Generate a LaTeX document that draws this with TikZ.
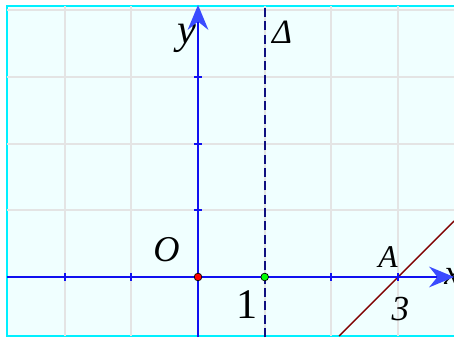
\documentclass[tikz,border=0pt]{standalone}
\usepackage{fontspec}
\setmainfont{Liberation Serif}
\usetikzlibrary{arrows.meta}
\definecolor{bgcol}{HTML}{F0FFFF}
\definecolor{gridcol}{HTML}{E4E4E4}
\definecolor{framecol}{HTML}{00F0FF}
\definecolor{axiscol}{HTML}{1010F0}
\definecolor{tipcol}{HTML}{3A4BFF}
\definecolor{dashcol}{HTML}{101080}
\definecolor{linecol}{HTML}{800000}
\tikzset{
  gridline/.style={draw=gridcol, line width=0.06cm},
  axisline/.style={draw=axiscol, line width=0.07cm},
  axistip/.style={-{Stealth[length=0.75cm,width=0.62cm,inset=0.25cm,color=tipcol,fill=tipcol]}},
  tickmark/.style={draw=axiscol, line width=0.06cm},
  dot/.style={circle, draw=black, line width=0.6pt, inner sep=0pt, minimum size=0.23cm},
  lbl/.style={inner sep=0pt, anchor=base},
}
\begin{document}
\begin{tikzpicture}[x=2cm,y=2cm]
\useasboundingbox (-2.969,-0.9) rectangle (3.838,4.153);
% frame
\draw[draw=framecol, fill=bgcol, line width=0.07cm] (-2.864,-0.885) rectangle (4.2,4.063);
% grid
\foreach \i in {-2,-1,0,1,2,3} \draw[gridline] (\i,-0.885) -- (\i,4.063);
\foreach \j in {1,2,3,4} \draw[gridline] (-2.864,\j) -- (3.84,\j);
% coordinates
\coordinate (xl) at (-2.864,0);
\coordinate (xr) at (3.84,0);
\coordinate (yb) at (0,-0.9);
\coordinate (yt) at (0,4.08);
\coordinate (db) at (1,-0.9);
\coordinate (dt) at (1,4.063);
\coordinate (la) at (2.115,-0.885);
\coordinate (lb) at (3.84,0.84);
% labels
\node[lbl, anchor=base west, font=\fontsize{30}{32}\selectfont\itshape] (xlab) at (3.69,-0.12) {x};
\node[lbl, font=\fontsize{36}{38}\selectfont\itshape] (ylab) at (-0.165,3.508) {y};
\node[lbl, font=\fontsize{29}{31}\selectfont\itshape] (dlab) at (1.26,3.508) {Δ};
\node[lbl, font=\fontsize{31}{33}\selectfont\itshape] (olab) at (-0.472,0.225) {O};
\node[lbl, font=\fontsize{36}{38}\selectfont] (onelab) at (0.742,-0.615) {1};
\node[lbl, font=\fontsize{27}{29}\selectfont\itshape] (alab) at (2.85,0.135) {A};
\node[lbl, font=\fontsize{30}{32}\selectfont\itshape] (threelab) at (3.036,-0.645) {3};
% dashed line
\draw[draw=dashcol, line width=0.06cm, dash pattern=on 0.27cm off 0.13cm] (db) -- (dt);
% line through A
\draw[draw=linecol, line width=0.045cm] (la) -- (lb);
% axes
\draw[axisline, axistip] (xl) -- (xr);
\draw[axisline, axistip] (yb) -- (yt);
% ticks
\foreach \i in {-2,-1,1,2,3} \draw[tickmark] (\i,-0.06) -- (\i,0.06);
\foreach \j in {1,2,3} \draw[tickmark] (-0.06,\j) -- (0.06,\j);
% points
\node[dot, fill=red] (O) at (0,0) {};
\node[dot, fill=green] (P) at (1,0) {};
\end{tikzpicture}
\end{document}
